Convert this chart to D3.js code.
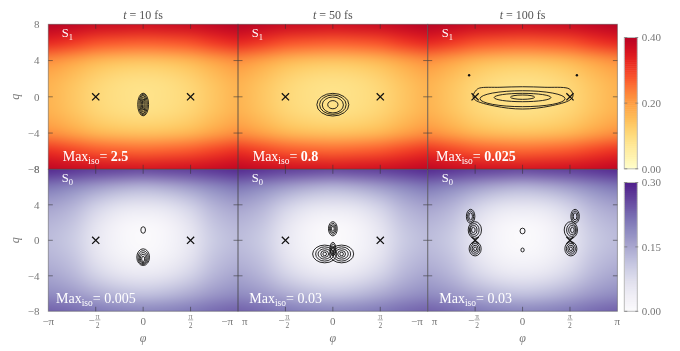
<!DOCTYPE html>
<html>
<head>
<meta charset="utf-8">
<script src="https://cdn.jsdelivr.net/npm/d3@7"></script>
<style>
  html, body { margin: 0; padding: 0; background: #fff; }
  #wrap { position: relative; width: 680px; height: 351px; }
  #wrap canvas, #wrap svg { position: absolute; left: 0; top: 0; }
  text { font-family: "Liberation Serif", "Times New Roman", serif; }
</style>
</head>
<body>
<div id="wrap">
  <canvas id="heat" width="680" height="351"></canvas>
  <svg id="chart" width="680" height="351"></svg>
</div>
<script>
const PI = Math.PI;

// ---- data ----
const times = [10, 50, 100];
const states = ["1", "0"];                 // S1 top row, S0 bottom row
const maxIsoS1 = ["2.5", "0.8", "0.025"];
const maxIsoS0 = ["0.005", "0.03", "0.03"];

const phiTicks = [-PI, -PI / 2, 0, PI / 2, PI];
const phiTickLabels = ["−π", "−π/2", "0", "π/2", "π"];
const qTicks = [8, 4, 0, -4, -8];
const qTickLabels = ["8", "4", "0", "−4", "−8"];

const s1Colorbar = [0, 0.2, 0.4];
const s1ColorbarLabels = ["0.00", "0.20", "0.40"];
const s0Colorbar = [0, 0.15, 0.3];
const s0ColorbarLabels = ["0.00", "0.15", "0.30"];

// potential surfaces sampled on a coarse grid (rows q = 8 .. -8, cols phi = -pi .. pi)
const phiGrid = [-PI, -3 * PI / 4, -PI / 2, -PI / 4, 0, PI / 4, PI / 2, 3 * PI / 4, PI];
const qGrid = [8, 6, 4, 2, 0, -2, -4, -6, -8];
const s1Field = [
  [0.40, 0.39, 0.38, 0.375, 0.37, 0.375, 0.38, 0.39, 0.40],
  [0.33, 0.31, 0.285, 0.275, 0.27, 0.275, 0.285, 0.31, 0.33],
  [0.22, 0.195, 0.165, 0.15, 0.145, 0.15, 0.165, 0.195, 0.22],
  [0.175, 0.15, 0.12, 0.102, 0.095, 0.102, 0.12, 0.15, 0.175],
  [0.168, 0.14, 0.11, 0.092, 0.085, 0.092, 0.11, 0.14, 0.168],
  [0.175, 0.15, 0.12, 0.104, 0.097, 0.104, 0.12, 0.15, 0.175],
  [0.22, 0.195, 0.165, 0.152, 0.147, 0.152, 0.165, 0.195, 0.22],
  [0.32, 0.30, 0.28, 0.27, 0.265, 0.27, 0.28, 0.30, 0.32],
  [0.39, 0.38, 0.37, 0.365, 0.36, 0.365, 0.37, 0.38, 0.39]
];
const s0Field = [
  [0.29, 0.28, 0.27, 0.265, 0.26, 0.265, 0.27, 0.28, 0.29],
  [0.21, 0.19, 0.165, 0.145, 0.135, 0.145, 0.165, 0.19, 0.21],
  [0.16, 0.14, 0.10, 0.07, 0.06, 0.07, 0.10, 0.14, 0.16],
  [0.135, 0.115, 0.065, 0.025, 0.012, 0.025, 0.065, 0.115, 0.135],
  [0.125, 0.105, 0.055, 0.018, 0.004, 0.018, 0.055, 0.105, 0.125],
  [0.135, 0.115, 0.065, 0.03, 0.018, 0.03, 0.065, 0.115, 0.135],
  [0.155, 0.135, 0.095, 0.065, 0.055, 0.065, 0.095, 0.135, 0.155],
  [0.185, 0.17, 0.145, 0.125, 0.115, 0.125, 0.145, 0.17, 0.185],
  [0.235, 0.225, 0.21, 0.2, 0.195, 0.2, 0.21, 0.225, 0.235]
];

const crossPhi = [-PI / 2, PI / 2];
const crossQ = 0;

// isocontours as ellipses: [phi centre, q centre, phi half-width, q half-height]
const s1Contours = [
  [[0, -0.85, 0.18, 1.25], [0, -0.85, 0.14, 1.15], [0, -0.85, 0.10, 1.02], [0, -0.85, 0.06, 0.86], [0, -0.85, 0.025, 0.62]],
  [[0, -0.87, 0.53, 1.25], [0, -0.87, 0.44, 1.07], [0, -0.9, 0.35, 0.88], [0, -0.87, 0.17, 0.45]],
  [[0, -0.21, 1.41, 0.88], [0, -0.08, 0.94, 0.46], [0, -0.04, 0.40, 0.24]]
];
const s0Contours = [
  [[0, 1.16, 0.077, 0.37],
   [0, -1.9, 0.21, 0.94], [0, -1.95, 0.17, 0.78], [0, -2.0, 0.13, 0.62], [0, -2.05, 0.09, 0.46], [0, -2.1, 0.05, 0.3]],
  [[0, 1.3, 0.145, 0.8], [0, 1.3, 0.11, 0.62], [0, 1.3, 0.08, 0.45], [0, 1.3, 0.045, 0.28],
   [0, -0.98, 0.10, 0.75], [0, -0.98, 0.07, 0.55], [0, -0.98, 0.04, 0.35],
   [-0.27, -1.54, 0.40, 1.0], [-0.27, -1.54, 0.30, 0.8], [-0.27, -1.54, 0.22, 0.58], [-0.27, -1.54, 0.13, 0.38], [-0.27, -1.54, 0.06, 0.2],
   [0.29, -1.54, 0.40, 1.0], [0.29, -1.54, 0.30, 0.8], [0.29, -1.54, 0.22, 0.58], [0.29, -1.54, 0.13, 0.38], [0.29, -1.54, 0.06, 0.2]],
  [[-1.72, 2.7, 0.14, 0.79], [-1.72, 2.7, 0.10, 0.6], [-1.72, 2.7, 0.06, 0.4],
   [-1.58, 1.16, 0.22, 0.94], [-1.6, 1.16, 0.16, 0.72], [-1.62, 1.16, 0.11, 0.5], [-1.63, 1.16, 0.06, 0.3],
   [-1.57, -0.96, 0.20, 0.8], [-1.57, -0.96, 0.15, 0.6], [-1.57, -0.96, 0.10, 0.4], [-1.57, -0.96, 0.05, 0.2],
   [1.74, 2.7, 0.14, 0.79], [1.74, 2.7, 0.10, 0.6], [1.74, 2.7, 0.06, 0.4],
   [1.6, 1.16, 0.22, 0.94], [1.62, 1.16, 0.16, 0.72], [1.64, 1.16, 0.11, 0.5], [1.65, 1.16, 0.06, 0.3],
   [1.6, -0.96, 0.20, 0.8], [1.6, -0.96, 0.15, 0.6], [1.6, -0.96, 0.10, 0.4], [1.6, -0.96, 0.05, 0.2],
   [0, 1.05, 0.083, 0.32], [0, -1.09, 0.055, 0.22]]
];
// outer S1 contour at t = 100 fs (phi, q)
const s1Outline100 = [
  [-1.53, 0.75], [-1.42, 0.97], [-0.75, 1.05], [0, 1.11], [0.74, 1.05], [1.50, 0.94],
  [1.62, 0.64], [1.67, 0.09], [1.57, -0.35], [0.91, -1.02], [0, -1.35], [-0.92, -1.02],
  [-1.57, -0.35], [-1.64, 0.09]
];
const s1Dots100 = [[-1.77, 2.37], [1.80, 2.37]];

// ---- layout ----
const panelLeft = 48.3, panelW = 189.7;
const rowBox = [{ top: 24.3, bottom: 169.3 }, { top: 169.3, bottom: 311.3 }];
const cbBox = [{ x: 624.3, top: 37.5, bottom: 168.8 }, { x: 624.3, top: 182.5, bottom: 311.3 }];
const cbW = 13;
const sLabelDx = [13.5, 13.7, 14];
const maxLabelDx = [[14.4, 14.7, 8.3], [7.7, 11.3, 11.6]];
const tickColor = "#333", labelColor = "#777", titleColor = "#555";

const colorS1 = d3.scaleSequential(t => d3.interpolateYlOrRd(t * 0.88)).domain([0, 0.4]).clamp(true);
const colorS0 = d3.scaleSequential(t => d3.interpolatePurples(t * 0.9)).domain([0, 0.3]).clamp(true);

const svg = d3.select("#chart");
const ctx = document.getElementById("heat").getContext("2d");
const defs = svg.append("defs");

function drawField(field, color, x, y) {
  const nq = field.length, np = field[0].length;
  const off = document.createElement("canvas");
  off.width = np; off.height = nq;
  const octx = off.getContext("2d");
  const img = octx.createImageData(np, nq);
  field.forEach((row, i) => row.forEach((v, j) => {
    const c = d3.rgb(color(v));
    const k = 4 * (i * np + j);
    img.data[k] = c.r; img.data[k + 1] = c.g; img.data[k + 2] = c.b; img.data[k + 3] = 255;
  }));
  octx.putImageData(img, 0, 0);
  const dp = (phiGrid[1] - phiGrid[0]) / 2, dq = (qGrid[0] - qGrid[1]) / 2;
  const x0 = x(phiGrid[0] - dp), x1 = x(phiGrid[np - 1] + dp);
  const y0 = y(qGrid[0] + dq), y1 = y(qGrid[nq - 1] - dq);
  ctx.save();
  ctx.beginPath();
  ctx.rect(x.range()[0], y.range()[1], x.range()[1] - x.range()[0], y.range()[0] - y.range()[1]);
  ctx.clip();
  ctx.imageSmoothingEnabled = true;
  ctx.imageSmoothingQuality = "high";
  ctx.drawImage(off, x0, y0, x1 - x0, y1 - y0);
  ctx.restore();
}

function fracLabel(g, label, x, yBase, anchor) {
  const neg = label.startsWith("−");
  const body = neg ? label.slice(1) : label;
  const parts = body.split("/");
  const lg = g.append("g").attr("fill", labelColor);
  if (parts.length === 1) {
    lg.append("text").attr("x", x).attr("y", yBase).attr("text-anchor", anchor)
      .style("font-size", "11px").text(label);
    return;
  }
  const fx = neg ? x + 2 : x;
  if (neg) lg.append("text").attr("x", fx - 3).attr("y", yBase - 0.5).attr("text-anchor", "end")
    .style("font-size", "11px").text("−");
  lg.append("text").attr("x", fx).attr("y", yBase - 6).attr("text-anchor", "middle")
    .style("font-size", "7.5px").text(parts[0]);
  lg.append("line").attr("x1", fx - 2.6).attr("x2", fx + 2.6).attr("y1", yBase - 4.6).attr("y2", yBase - 4.6)
    .attr("stroke", labelColor).attr("stroke-width", 0.6);
  lg.append("text").attr("x", fx).attr("y", yBase + 3).attr("text-anchor", "middle")
    .style("font-size", "7.5px").text(parts[1]);
}

const contourLine = d3.line().curve(d3.curveCatmullRomClosed.alpha(0.5));

rowBox.forEach((rb, r) => {
  const field = r === 0 ? s1Field : s0Field;
  const color = r === 0 ? colorS1 : colorS0;
  const contours = r === 0 ? s1Contours : s0Contours;
  const maxIso = r === 0 ? maxIsoS1 : maxIsoS0;
  const y = d3.scaleLinear().domain([-8, 8]).range([rb.bottom, rb.top]);

  times.forEach((tm, c) => {
    const x0 = panelLeft + c * panelW;
    const x = d3.scaleLinear().domain([-PI, PI]).range([x0, x0 + panelW]);
    drawField(field, color, x, y);

    const clipId = `clip-${r}-${c}`;
    defs.append("clipPath").attr("id", clipId).append("rect")
      .attr("x", x0).attr("y", rb.top).attr("width", panelW).attr("height", rb.bottom - rb.top);
    const g = svg.append("g");
    const inner = g.append("g").attr("clip-path", `url(#${clipId})`);

    // contours
    inner.selectAll("ellipse.iso").data(contours[c]).join("ellipse")
      .attr("class", "iso")
      .attr("cx", d => x(d[0])).attr("cy", d => y(d[1]))
      .attr("rx", d => x(d[0] + d[2]) - x(d[0])).attr("ry", d => y(d[1]) - y(d[1] + d[3]))
      .attr("fill", "none").attr("stroke", "#111").attr("stroke-width", 0.9);
    if (r === 0 && c === 2) {
      inner.append("path").attr("d", contourLine(s1Outline100.map(d => [x(d[0]), y(d[1])])))
        .attr("fill", "none").attr("stroke", "#111").attr("stroke-width", 0.9);
      inner.selectAll("circle.dot").data(s1Dots100).join("circle").attr("class", "dot")
        .attr("cx", d => x(d[0])).attr("cy", d => y(d[1])).attr("r", 1.2).attr("fill", "#111");
    }

    // minima markers
    inner.selectAll("path.cross").data(crossPhi).join("path").attr("class", "cross")
      .attr("transform", d => `translate(${x(d)},${y(crossQ)})`)
      .attr("d", "M-3.6,-3.6L3.6,3.6M-3.6,3.6L3.6,-3.6")
      .attr("stroke", "#111").attr("stroke-width", 1.3).attr("fill", "none");

    // ticks (inward, all sides)
    const tk = g.append("g").attr("stroke", tickColor).attr("stroke-opacity", 0.55).attr("stroke-width", 1);
    phiTicks.slice(1, -1).forEach(p => {
      tk.append("line").attr("x1", x(p)).attr("x2", x(p)).attr("y1", rb.top).attr("y2", rb.top + 4.5);
      tk.append("line").attr("x1", x(p)).attr("x2", x(p)).attr("y1", rb.bottom).attr("y2", rb.bottom - 4.5);
    });
    qTicks.slice(1, -1).forEach(q => {
      tk.append("line").attr("x1", x0).attr("x2", x0 + 4.5).attr("y1", y(q)).attr("y2", y(q));
      tk.append("line").attr("x1", x0 + panelW).attr("x2", x0 + panelW - 4.5).attr("y1", y(q)).attr("y2", y(q));
    });
    g.append("rect").attr("x", x0).attr("y", rb.top).attr("width", panelW).attr("height", rb.bottom - rb.top)
      .attr("fill", "none").attr("stroke", "#444").attr("stroke-opacity", 0.45).attr("stroke-width", 1);

    // state label
    const sl = g.append("text").attr("x", x0 + sLabelDx[c]).attr("y", rb.top + 12.5)
      .attr("fill", "#fff").style("font-size", "12.5px");
    sl.append("tspan").text("S");
    sl.append("tspan").attr("dy", 3).style("font-size", "8.5px").text(states[r]);

    // Max_iso label
    const ml = g.append("text").attr("x", x0 + maxLabelDx[r][c]).attr("y", rb.bottom - 8.8)
      .attr("fill", "#fff").style("font-size", "14px");
    ml.append("tspan").text("Max");
    ml.append("tspan").attr("dy", 3).style("font-size", "9.5px").text("iso");
    ml.append("tspan").attr("dy", -3).text("= ");
    ml.append("tspan").style("font-weight", r === 0 ? "bold" : "normal").text(maxIso[c]);

    // column titles
    if (r === 0) {
      const tt = svg.append("text").attr("x", x(0)).attr("y", 19).attr("text-anchor", "middle")
        .attr("fill", titleColor).style("font-size", "12px");
      tt.append("tspan").style("font-style", "italic").text("t");
      tt.append("tspan").text(` = ${tm} fs`);
    }

    // phi tick labels on bottom row
    if (r === 1) {
      phiTicks.forEach((p, i) => {
        let px = x(p), anchor = "middle";
        if (i === 0 && c > 0) { px -= 5; anchor = "end"; }
        if (i === phiTicks.length - 1 && c < times.length - 1) { px += 4; anchor = "start"; }
        fracLabel(svg, phiTickLabels[i], px, 324.5, anchor);
      });
      svg.append("text").attr("x", x(0)).attr("y", 342).attr("text-anchor", "middle")
        .attr("fill", labelColor).style("font-size", "12px").style("font-style", "italic").text("φ");
    }
  });

  // q axis
  qTicks.forEach((q, i) => {
    svg.append("text").attr("x", 39.5).attr("y", y(q) + 3.8).attr("text-anchor", "end")
      .attr("fill", labelColor).style("font-size", "11px").text(qTickLabels[i]);
  });
  svg.append("text").attr("transform", `translate(18.5,${y(0)}) rotate(-90)`).attr("text-anchor", "middle")
    .attr("fill", labelColor).style("font-size", "12px").style("font-style", "italic").text("q");

  // colorbar
  const cb = cbBox[r];
  const vals = r === 0 ? s1Colorbar : s0Colorbar;
  const labs = r === 0 ? s1ColorbarLabels : s0ColorbarLabels;
  const cy = d3.scaleLinear().domain([vals[0], vals[vals.length - 1]]).range([cb.bottom, cb.top]);
  const steps = d3.range(0, 64).map(i => vals[0] + (vals[vals.length - 1] - vals[0]) * i / 64);
  const dv = (vals[vals.length - 1] - vals[0]) / 64;
  svg.append("g").selectAll("rect").data(steps).join("rect")
    .attr("x", cb.x).attr("width", cbW)
    .attr("y", d => cy(d + dv)).attr("height", d => cy(d) - cy(d + dv) + 0.5)
    .attr("fill", d => color(d + dv / 2));
  svg.append("rect").attr("x", cb.x).attr("y", cb.top).attr("width", cbW).attr("height", cb.bottom - cb.top)
    .attr("fill", "none").attr("stroke", "#bbb").attr("stroke-width", 1);
  vals.forEach((v, i) => {
    svg.append("line").attr("x1", cb.x).attr("x2", cb.x + 3).attr("y1", cy(v)).attr("y2", cy(v))
      .attr("stroke", "#666").attr("stroke-opacity", 0.6);
    svg.append("line").attr("x1", cb.x + cbW - 2).attr("x2", cb.x + cbW + 1).attr("y1", cy(v)).attr("y2", cy(v))
      .attr("stroke", "#666").attr("stroke-opacity", 0.6);
    svg.append("text").attr("x", cb.x + cbW + 4.5).attr("y", cy(v) + 3.8)
      .attr("fill", labelColor).style("font-size", "11px").text(labs[i]);
  });
});
</script>
</body>
</html>
